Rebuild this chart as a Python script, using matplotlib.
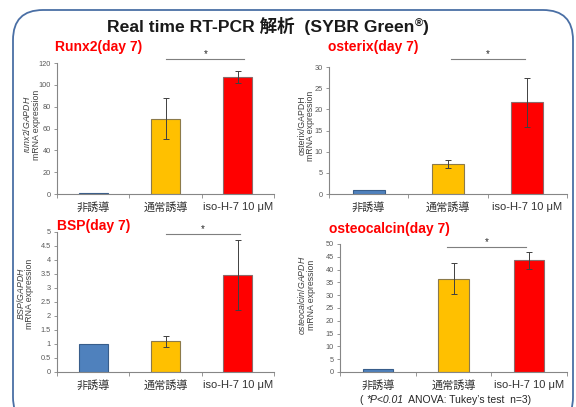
import matplotlib
matplotlib.use('Agg')
import matplotlib.pyplot as plt
from matplotlib.patches import FancyBboxPatch
from matplotlib.transforms import IdentityTransform
import numpy as np

plt.rcParams['font.family'] = ['Liberation Sans', 'Noto Sans CJK JP', 'DejaVu Sans']
plt.rcParams['mathtext.fontset'] = 'custom'
plt.rcParams['mathtext.it'] = 'Liberation Sans:italic'
plt.rcParams['mathtext.rm'] = 'Liberation Sans'

# ---------------- data ----------------
categories = ['非誘導', '通常誘導', 'iso-H-7 10 μM']
bar_colors = ['#4F81BD', '#FFC000', '#FF0000']
edge_colors = ['#385D8A', '#8C7A4A', '#8C6A6A']

runx2_vals = [1.0, 69.0, 107.5]
runx2_err = [0.0, 18.5, 5.5]
osterix_vals = [1.0, 7.1, 21.7]
osterix_err = [0.0, 0.85, 5.8]
bsp_vals = [1.0, 1.1, 3.47]
bsp_err = [0.0, 0.2, 1.25]
ocn_vals = [1.0, 36.5, 43.6]
ocn_err = [0.0, 6.0, 3.4]

W, H = 576, 407
fig = plt.figure(figsize=(W / 100, H / 100), dpi=100)


def px_axes(l, t, r, b):
    return fig.add_axes([l / W, 1 - b / H, (r - l) / W, (b - t) / H])


def panel(ax, vals, errs, ymax, ystep, gene_label, sig_y, sig_x0, sig_x1,
          ylab_x, ylab_y=0.55):
    x = np.arange(len(categories))
    ax.bar(x, vals, width=0.4, color=bar_colors, edgecolor=edge_colors,
           linewidth=0.8, zorder=2)
    ax.errorbar(x[1:], vals[1:], yerr=errs[1:], fmt='none', ecolor='#404040',
                elinewidth=0.7, capsize=2, capthick=0.7, zorder=3)
    ax.set_xlim(-0.5, 2.5)
    ax.set_ylim(0, ymax)
    yt = np.arange(0, ymax + ystep / 2, ystep)
    ax.set_yticks(yt)
    ax.set_yticklabels(['%g' % v for v in yt])
    ax.tick_params(axis='y', length=2.5, width=0.6, color='#868686',
                   labelsize=5.3, labelcolor='#595959', pad=2)
    ax.set_xticks(x)
    ax.set_xticklabels(categories)
    ax.set_xticks([-0.5, 0.5, 1.5, 2.5], minor=True)
    ax.tick_params(axis='x', which='major', length=0, labelsize=8,
                   labelcolor='#333333', pad=6)
    ax.tick_params(axis='x', which='minor', length=3, width=0.6,
                   color='#868686', direction='out')
    for s in ('top', 'right'):
        ax.spines[s].set_visible(False)
    for s in ('left', 'bottom'):
        ax.spines[s].set_color('#868686')
        ax.spines[s].set_linewidth(0.8)
    ax.patch.set_alpha(0)
    ax.plot([sig_x0, sig_x1], [sig_y, sig_y], color='#7f7f7f', lw=0.8,
            clip_on=False)
    ax.text((sig_x0 + sig_x1) / 2, sig_y, '*', ha='center', va='bottom',
            fontsize=7, color='#262626', clip_on=False)
    ax.text(ylab_x, ylab_y, gene_label + '\nmRNA expression',
            transform=ax.transAxes, rotation=90, ha='center', va='center',
            fontsize=6.3, color='#404040', linespacing=0.9)


ax1 = px_axes(57, 63, 274, 194)
panel(ax1, runx2_vals, runx2_err, 120, 20, r'$\it{runx2/GAPDH}$',
      123.8, 1.01, 2.09, -0.12, 0.53)
ax2 = px_axes(329, 67, 567, 194)
panel(ax2, osterix_vals, osterix_err, 30, 5, 'osterix/GAPDH',
      31.9, 1.04, 1.97, -0.095, 0.54)
ax3 = px_axes(57, 232, 274, 372)
panel(ax3, bsp_vals, bsp_err, 5, 0.5, r'$\it{BSP/GAPDH}$',
      4.92, 1.0, 2.03, -0.15, 0.56)
ax4 = px_axes(340, 244, 567, 372)
panel(ax4, ocn_vals, ocn_err, 50, 5, r'$\it{osteocalcin/GAPDH}$',
      48.9, 0.91, 1.96, -0.15, 0.6)

# panel titles
for txt, xp, yp in [('Runx2(day 7)', 55, 47), ('osterix(day 7)', 328, 47),
                    ('BSP(day 7)', 57, 226), ('osteocalcin(day 7)', 329, 229)]:
    fig.text(xp / W, 1 - yp / H, txt, ha='left', va='center', fontsize=10,
             fontweight='bold', color='#FF0000')

fig.canvas.draw()
renderer = fig.canvas.get_renderer()


def place_pieces(pieces, x_start_px, baseline_px, center=False):
    # pieces: list of (text, kwargs, dy_px)
    widths = []
    objs = []
    for t, kw, dy in pieces:
        o = fig.text(0, 0, t, ha='left', va='baseline', **kw)
        widths.append(o.get_window_extent(renderer).width)
        objs.append((o, dy))
    total = sum(widths)
    x = x_start_px - total / 2 if center else x_start_px
    for (o, dy), w in zip(objs, widths):
        o.set_position((x / W, (H - baseline_px + dy) / H))
        x += w


# main title
tkw = dict(fontsize=12.6, fontweight='bold', color='#1a1a1a')
place_pieces([('Real time RT-PCR 解析  (SYBR Green', tkw, 0),
              ('®', dict(fontsize=8, fontweight='bold', color='#1a1a1a'), 5),
              (')', tkw, 0)], 268, 32, center=True)

# footnote
fkw = dict(fontsize=7.5, color='#262626')
place_pieces([('( ', fkw, 0),
              ('*P<0.01', dict(fontsize=7.5, color='#262626', style='italic'), 0),
              ('  ANOVA: Tukey\u2019s test  n=3)', fkw, 0)], 360, 403)

# rounded border
border = FancyBboxPatch((13, -20), 560, 417,
                        boxstyle='round,pad=0,rounding_size=30',
                        transform=IdentityTransform(), fill=False,
                        edgecolor='#4A6FA5', linewidth=1.3)
fig.add_artist(border)

fig.savefig('out.png', dpi=100)
